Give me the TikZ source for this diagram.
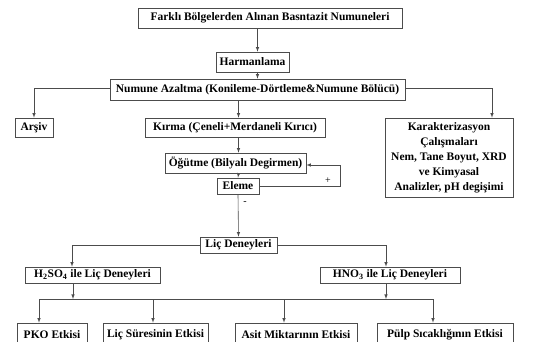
\documentclass[tikz,border=0pt]{standalone}
\usepackage{fontspec}
\setmainfont{Liberation Serif}
\tikzset{
  box/.style={draw=black!70, line width=.7pt, fill=white, align=center, inner sep=0pt,
    font=\bfseries\fontsize{11.5}{15}\selectfont},
  arr/.style={draw=black!70, line width=.6pt, -latex},
  ln/.style={draw=black!70, line width=.6pt}
}
\begin{document}
\begin{tikzpicture}[x=1pt, y=-1pt]
    \path[use as bounding box, clip] (0,0) rectangle (544,341);
    % boxes
    \node[box, minimum width=264, minimum height=20] (src) at (270,18) {Farklı Bölgelerden Alınan Basntazit Numuneleri};
    \node[box, minimum width=73, minimum height=20] (harm) at (252.5,62) {Harmanlama};
    \node[box, minimum width=295, minimum height=21] (azalt) at (257.5,89.5) {Numune Azaltma (Konileme-Dörtleme\&Numune Bölücü)};
    \node[box, minimum width=38, minimum height=19] (arsiv) at (34,127.5) {Arşiv};
    \node[box, minimum width=180, minimum height=19] (kirma) at (235,127.5) {Kırma (Çeneli+Merdaneli Kırıcı)};
    \node[box, minimum width=141, minimum height=20] (ogut) at (235.5,163) {Öğütme (Bilyalı Degirmen)};
    \node[box, minimum width=42, minimum height=16] (eleme) at (238,186) {Eleme};
    \node[box, minimum width=128, minimum height=79] (karak) at (449,157.5)
      {Karakterizasyon\\Çalışmaları\\Nem, Tane Boyut, XRD\\ve Kimyasal\\Analizler, pH degişimi};
    \node[box, minimum width=77, minimum height=16] (lic) at (238.5,245) {Liç Deneyleri};
    \node[box, minimum width=135, minimum height=16] (sulf) at (92.5,275) {H\textsubscript{2}SO\textsubscript{4} ile Liç Deneyleri};
    \node[box, minimum width=140, minimum height=16] (nitr) at (390,275) {HNO\textsubscript{3} ile Liç Deneyleri};
    \node[box, minimum width=70, minimum height=24] (pko) at (52,335) {PKO Etkisi};
    \node[box, minimum width=105, minimum height=24] (sure) at (155.5,335) {Liç Süresinin Etkisi};
    \node[box, minimum width=122, minimum height=24] (asit) at (296,335) {Asit Miktarının Etkisi};
    \node[box, minimum width=136, minimum height=24] (pulp) at (445,335) {Pülp Sıcaklığının Etkisi};
    % connectors
    \draw[arr] (src.south -| azalt) -- (harm.north -| azalt);
    \draw[arr] (harm.south -| azalt) -- (azalt.north);
    \draw[arr] (azalt.west |- 0,88) -| (arsiv.north);
    \draw[arr] (azalt.east |- 0,88) -| (492,0 |- karak.north);
    \draw[arr] (azalt.south -| lic) -- (kirma.north -| lic);
    \draw[arr] (kirma.south -| lic) -- (ogut.north -| lic);
    \draw[arr] (ogut.south -| lic) -- (eleme.north);
    \draw[arr] (eleme.east) -- (340,186) |- (ogut.east |- 0,165);
    \draw[arr] (eleme.south) -- (lic.north);
    \draw[arr] (lic.west) -| (sulf.north -| 72,0);
    \draw[arr] (lic.east) -| (nitr.north -| 386,0);
    \coordinate (b1) at (39,299);
    \coordinate (b2) at (433,299);
    \draw[ln] (b1) -- (b2);
    \draw[arr] (sulf.south -| 73,0) -- (73,299);
    \draw[arr] (nitr.south -| 386,0) -- (386,299);
    \draw[arr] (b1) -- (b1 |- pko.north);
    \draw[arr] (153,299) -- (153,0 |- sure.north);
    \draw[arr] (284,299) -- (284,0 |- asit.north);
    \draw[arr] (b2) -- (b2 |- pulp.north);
    \node[font=\fontsize{10}{10}\selectfont] (plus) at (328,181) {+};
    \node[font=\fontsize{10}{10}\selectfont] (minus) at (245,203) {-};
\end{tikzpicture}
\end{document}
